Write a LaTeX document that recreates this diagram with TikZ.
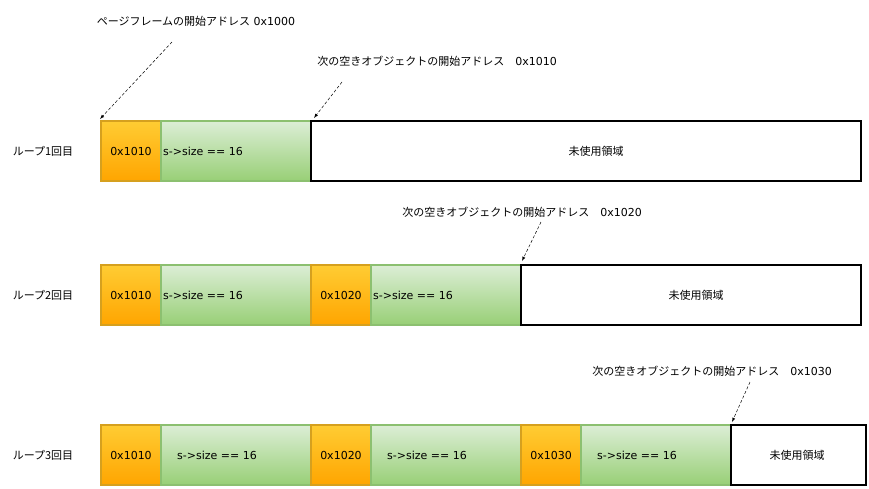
\documentclass[tikz,border=0pt]{standalone}
\usepackage{fontspec}
\setmainfont{DejaVu Sans}
\newfontfamily\cjk{Noto Sans CJK JP}
\definecolor{otop}{HTML}{FFCC33}
\definecolor{obot}{HTML}{FFA500}
\definecolor{oline}{HTML}{D6A01E}
\definecolor{gtop}{HTML}{DCEED6}
\definecolor{gbot}{HTML}{98CF76}
\definecolor{gline}{HTML}{8CC070}
\begin{document}
\begin{tikzpicture}[x=1pt,y=-1pt,font=\fontsize{11}{13}\selectfont,
  ob/.style={draw=oline,line width=1.2pt,top color=otop,bottom color=obot},
  gb/.style={draw=gline,line width=1.2pt,top color=gtop,bottom color=gbot},
  wb/.style={draw=black,line width=1.2pt,fill=white},
  ptr/.style={densely dashed,line width=0.5pt,-latex}]
\useasboundingbox (0,0) rectangle (869,488);
% row 1
\path[ob] (101,121) rectangle (161,181);
\path[gb] (161,121) rectangle (311,181);
\path[wb] (311,121) rectangle (861,181);
\node (r1) at (43,151) {\cjk ループ1回目};
\node at (131,151) {0x1010};
\node[anchor=west,inner sep=1pt] at (162,151) {s->size == 16};
\node at (596,151) {\cjk 未使用領域};
\node (l1) at (196,21) {\cjk ページフレームの開始アドレス\rm\ 0x1000};
\node (l2) at (437,61) {\cjk 次の空きオブジェクトの開始アドレス　\rm 0x1010};
\coordinate (a1) at (172,42); \coordinate (b1) at (100,119);
\coordinate (a2) at (342,82); \coordinate (b2) at (314,118);
\draw[ptr] (a1) -- (b1); \draw[ptr] (a2) -- (b2);
% row 2
\path[ob] (101,265) rectangle (161,325);
\path[gb] (161,265) rectangle (311,325);
\path[ob] (311,265) rectangle (371,325);
\path[gb] (371,265) rectangle (521,325);
\path[wb] (521,265) rectangle (861,325);
\node (r2) at (43,295) {\cjk ループ2回目};
\node at (131,295) {0x1010};
\node[anchor=west,inner sep=1pt] at (162,295) {s->size == 16};
\node at (341,295) {0x1020};
\node[anchor=west,inner sep=1pt] at (372,295) {s->size == 16};
\node at (696,295) {\cjk 未使用領域};
\node (l3) at (522,212) {\cjk 次の空きオブジェクトの開始アドレス　\rm 0x1020};
\coordinate (a3) at (541,222); \coordinate (b3) at (522,261);
\draw[ptr] (a3) -- (b3);
% row 3
\path[ob] (101,425) rectangle (161,485);
\path[gb] (161,425) rectangle (311,485);
\path[ob] (311,425) rectangle (371,485);
\path[gb] (371,425) rectangle (521,485);
\path[ob] (521,425) rectangle (581,485);
\path[gb] (581,425) rectangle (731,485);
\path[wb] (731,425) rectangle (866,485);
\node (r3) at (43,455) {\cjk ループ3回目};
\node at (131,455) {0x1010};
\node at (217,455) {s->size == 16};
\node at (341,455) {0x1020};
\node at (427,455) {s->size == 16};
\node at (551,455) {0x1030};
\node at (637,455) {s->size == 16};
\node at (797,455) {\cjk 未使用領域};
\node (l4) at (712,371) {\cjk 次の空きオブジェクトの開始アドレス　\rm 0x1030};
\coordinate (a4) at (750,382); \coordinate (b4) at (732,422);
\draw[ptr] (a4) -- (b4);
\end{tikzpicture}
\end{document}
